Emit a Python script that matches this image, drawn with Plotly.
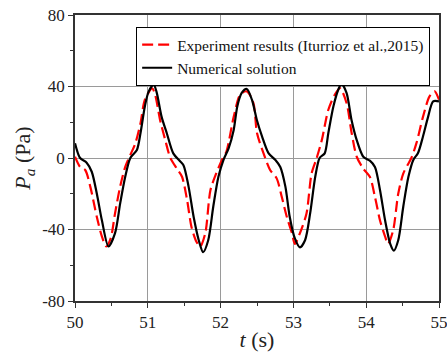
import plotly.graph_objects as go

t_num = [50.0, 50.07, 50.16, 50.23, 50.30, 50.37, 50.46, 50.55, 50.62, 50.69, 50.76, 50.85, 50.90, 50.96, 51.01, 51.08,
         51.12, 51.19, 51.26, 51.35, 51.44, 51.49, 51.56, 51.63, 51.70, 51.76, 51.83, 51.90, 51.97, 52.04, 52.11,
         52.18, 52.23, 52.29, 52.36, 52.43, 52.50, 52.57, 52.66, 52.75, 52.82, 52.89, 52.95, 53.02, 53.09, 53.16,
         53.23, 53.30, 53.36, 53.43, 53.48, 53.55, 53.62, 53.66, 53.73, 53.80, 53.87, 53.96, 54.05, 54.12, 54.19,
         54.26, 54.33, 54.38, 54.44, 54.51, 54.58, 54.65, 54.71, 54.78, 54.85, 54.92, 55.0]
p_num = [8.3, 0.0, -2.6, -7.7, -20, -35, -49.5, -42, -25.5, -10.5, 0.0, 4.5, 14, 29, 37, 41,
         37, 23, 14, 2.6, -1.7, -4, -16, -33, -46, -52.7, -46, -27, -10.5, -1, 5.4,
         15.7, 29, 36.4, 38.6, 32.6, 21, 12, 2.6, -1, -5, -16, -33, -45, -50, -46,
         -31, -10.5, 0.0, 2.6, 14, 29, 38.6, 41.6, 36.4, 21, 10, 0.7, -1.5, -5, -18,
         -35, -48, -51.8, -46, -27, -10.5, -0.8, 2.6, 12, 23, 31.7, 31.7]

t_exp = [50.0, 50.07, 50.14, 50.21, 50.30, 50.37, 50.43, 50.49, 50.55, 50.62, 50.69, 50.76, 50.83, 50.90, 50.96,
         51.06, 51.10, 51.17, 51.24, 51.31, 51.40, 51.47, 51.54, 51.60, 51.67, 51.72, 51.79, 51.86, 51.94, 52.02,
         52.08, 52.18, 52.27, 52.36, 52.45, 52.50, 52.59, 52.68, 52.77, 52.84, 52.91, 52.98, 53.02, 53.09, 53.18,
         53.25, 53.32, 53.39, 53.48, 53.57, 53.64, 53.73, 53.80, 53.87, 53.96, 54.05, 54.12, 54.19, 54.26, 54.30,
         54.37, 54.44, 54.51, 54.62, 54.69, 54.78, 54.87, 54.94, 55.0]
p_exp = [0.7, -5, -6.7, -16, -33, -44, -49.5, -45, -31, -16, -5, 1.7, 8.3, 19.5, 32.6,
         39, 35.5, 21, 10, 0.0, -6, -10.5, -23.6, -38.6, -47, -49.5, -42, -18, -8.6, -1,
         3.6, 23, 35.5, 37.3, 30.8, 14, 2.6, -6.7, -11.4, -21.7, -33, -42, -48, -42, -31,
         -8.6, 0.0, 10, 27, 35.5, 39, 30.8, 14, 0.7, -6, -10.5, -21.7, -35, -44, -48,
         -40.5, -20, -8.6, 0.0, 8.3, 23, 34.5, 37.3, 32.6]

x_ticks = [50, 51, 52, 53, 54, 55]
y_ticks = [-80, -40, 0, 40, 80]
y_ticktext = ["-80", "-40", "0", "40", "80"]

FONT = "Liberation Serif"

fig = go.Figure()
fig.add_trace(go.Scatter(x=t_exp, y=p_exp, mode="lines", name="Experiment results (Iturrioz et al.,2015)",
                         line=dict(color="#ff0000", width=2.2, dash="11px,5px", shape="spline", smoothing=0.8)))
fig.add_trace(go.Scatter(x=t_num, y=p_num, mode="lines", name="Numerical solution",
                         line=dict(color="#000000", width=2.2, shape="spline", smoothing=0.8)))

fig.update_layout(
    width=447, height=352,
    margin=dict(l=75, r=8, t=15, b=51),
    paper_bgcolor="white", plot_bgcolor="white",
    font=dict(family=FONT, color="#222222"),
    legend=dict(x=0.168, y=0.958, xanchor="left", yanchor="top",
                bordercolor="black", borderwidth=1, bgcolor="white",
                font=dict(family=FONT, size=15.5, color="#111111"),
                tracegroupgap=0, itemwidth=30),
    xaxis=dict(range=[50, 55], tickvals=x_ticks, ticks="outside", ticklen=5, tickwidth=1.2,
               tickcolor="#333333", showline=True, linecolor="#333333", linewidth=1.5, mirror=True,
               showgrid=True, gridcolor="#9a9a9a", gridwidth=1, zeroline=False, automargin=False,
               ticklabeloverflow="allow",
               tickfont=dict(family=FONT, size=17, color="#222222"),
               minor=dict(ticks="outside", ticklen=3, dtick=0.5, tickcolor="#333333", showgrid=False),
               title=dict(text="<i>t</i> (s)", font=dict(family=FONT, size=22, color="#222222"), standoff=0)),
    yaxis=dict(range=[-80, 80], tickvals=y_ticks, ticktext=y_ticktext, ticks="outside", ticklen=5, tickwidth=1.2,
               tickcolor="#333333", showline=True, linecolor="#333333", linewidth=1.5, mirror=True,
               showgrid=True, gridcolor="#9a9a9a", gridwidth=1, zeroline=False, automargin=False,
               ticklabeloverflow="allow",
               tickfont=dict(family=FONT, size=17, color="#222222"),
               minor=dict(ticks="outside", ticklen=3, dtick=20, tickcolor="#333333", showgrid=False),
               title=dict(text="<i>P</i><sub><i>a</i></sub> (Pa)", font=dict(family=FONT, size=22, color="#222222"), standoff=5)),
)

fig.write_html("out.html", config={"displayModeBar": False},
               post_script="document.body.style.margin='0px';")
